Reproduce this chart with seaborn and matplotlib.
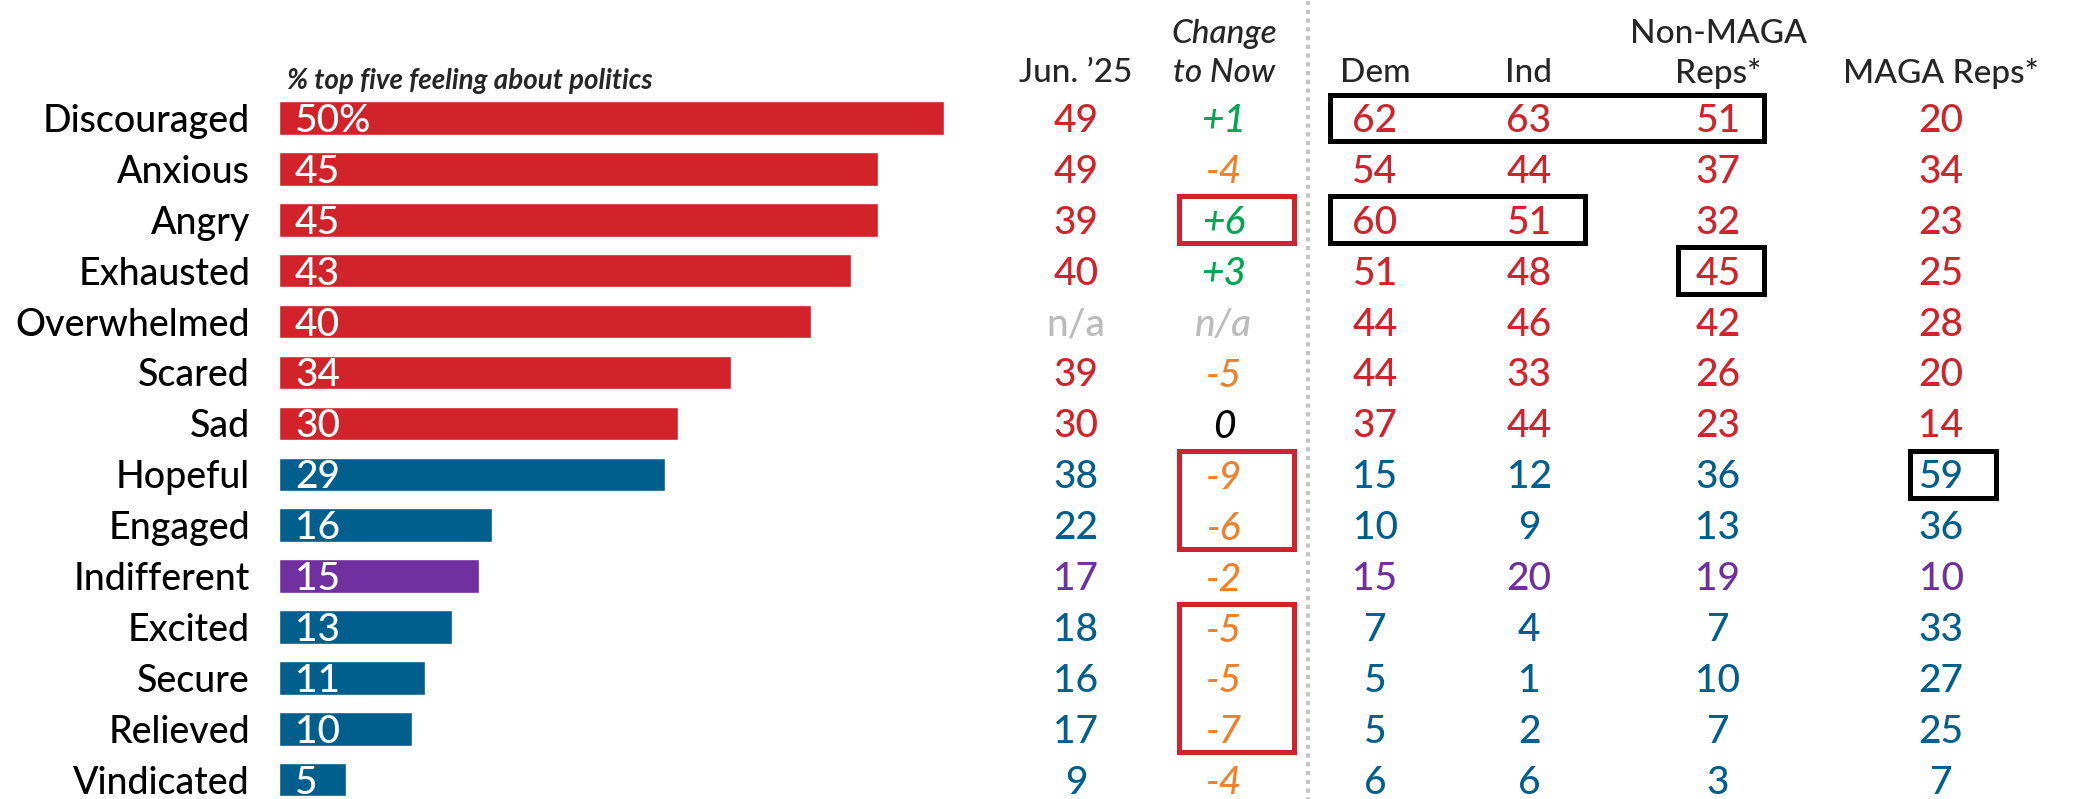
import matplotlib
matplotlib.use("Agg")
import matplotlib.pyplot as plt
from matplotlib import font_manager
from matplotlib.patches import Rectangle
from matplotlib.transforms import blended_transform_factory
import seaborn as sns
import pandas as pd

feelings = ["Discouraged", "Anxious", "Angry", "Exhausted", "Overwhelmed", "Scared", "Sad",
            "Hopeful", "Engaged", "Indifferent", "Excited", "Secure", "Relieved", "Vindicated"]
pct_now = [50, 45, 45, 43, 40, 34, 30, 29, 16, 15, 13, 11, 10, 5]
tone = ["neg"] * 7 + ["pos", "pos", "neu", "pos", "pos", "pos", "pos"]
jun25 = ["49", "49", "39", "40", "n/a", "39", "30", "38", "22", "17", "18", "16", "17", "9"]
change = ["+1", "-4", "+6", "+3", "n/a", "-5", "0", "-9", "-6", "-2", "-5", "-5", "-7", "-4"]
dem = [62, 54, 60, 51, 44, 44, 37, 15, 10, 15, 7, 5, 5, 6]
ind = [63, 44, 51, 48, 46, 33, 44, 12, 9, 20, 4, 1, 2, 6]
nonmaga = [51, 37, 32, 45, 42, 26, 23, 36, 13, 19, 7, 10, 7, 3]
maga = [20, 34, 23, 25, 28, 20, 14, 59, 36, 10, 33, 27, 25, 7]

df = pd.DataFrame({"feeling": feelings, "pct": pct_now, "tone": tone})

RED, BLUE, PURPLE = "#D2232A", "#005F8D", "#7030A0"
GREEN, ORANGE, GRAY = "#00A651", "#F0812A", "#BBBBBB"
tone_colors = {"neg": RED, "pos": BLUE, "neu": PURPLE}

sns.set_theme(style="white")
installed = {f.name for f in font_manager.fontManager.ttflist}
font = next((f for f in ["Lato", "Open Sans", "DejaVu Sans"] if f in installed))
plt.rcParams["font.family"] = [font, "DejaVu Sans"]
plt.rcParams["font.weight"] = "medium"

W, H = 2075, 799
fig = plt.figure(figsize=(W / 100, H / 100), dpi=100)
ax = fig.add_axes([0, 0, 1, 1])

sns.barplot(data=df, y="feeling", x="pct", hue="tone", palette=tone_colors,
            order=feelings, orient="h", width=0.66, dodge=False, legend=False,
            saturation=1, ax=ax)

# pixel layout: bar zero at x=279, 13.3 px per point; row 0 centre y=118, 50.9 px per row
px_per = 13.3
row_px = 50.9
ax.set_xlim(-279 / px_per, (W - 279) / px_per)
ax.set_ylim((H - 118) / row_px, -118 / row_px)
ax.axis("off")

fx = blended_transform_factory(fig.transFigure, ax.transData)

NUM = 28
for i, (name, v) in enumerate(zip(feelings, pct_now)):
    ax.text(-29 / px_per, i, name, ha="right", va="center_baseline", fontsize=27, color="black")
    lab = f"{v}%" if i == 0 else str(v)
    ax.text(16 / px_per, i, lab, ha="left", va="center_baseline", fontsize=NUM, color="white")

ax.text(287 / W, -0.78, "% top five feeling about politics", transform=fx, ha="left",
        va="center_baseline", fontsize=20, style="italic", fontweight="bold")

cols = {"jun": 1076, "chg": 1224, "dem": 1375, "ind": 1529, "nm": 1718, "maga": 1941}
hdr_y1, hdr_y2 = -1.7, -0.94
HDR = 24
ax.text(cols["jun"] / W, hdr_y2, "Jun. \u201925", transform=fx, ha="center", va="center_baseline", fontsize=HDR)
ax.text(cols["chg"] / W, hdr_y1, "Change", transform=fx, ha="center", va="center_baseline", fontsize=HDR, style="italic")
ax.text(cols["chg"] / W, hdr_y2, "to Now", transform=fx, ha="center", va="center_baseline", fontsize=HDR, style="italic")
ax.text(cols["dem"] / W, hdr_y2, "Dem", transform=fx, ha="center", va="center_baseline", fontsize=HDR)
ax.text(cols["ind"] / W, hdr_y2, "Ind", transform=fx, ha="center", va="center_baseline", fontsize=HDR)
ax.text(cols["nm"] / W, hdr_y1, "Non-MAGA", transform=fx, ha="center", va="center_baseline", fontsize=HDR)
ax.text(cols["nm"] / W, hdr_y2, "Reps*", transform=fx, ha="center", va="center_baseline", fontsize=HDR)
ax.text(cols["maga"] / W, hdr_y2, "MAGA Reps*", transform=fx, ha="center", va="center_baseline", fontsize=HDR)


def change_color(s):
    if s == "n/a":
        return GRAY
    if s.startswith("+"):
        return GREEN
    if s.startswith("-"):
        return ORANGE
    return "black"


for i in range(len(feelings)):
    c = tone_colors[tone[i]]
    jc = GRAY if jun25[i] == "n/a" else c
    ax.text(cols["jun"] / W, i, jun25[i], transform=fx, ha="center", va="center_baseline",
            fontsize=NUM, color=jc)
    ax.text(cols["chg"] / W, i, change[i], transform=fx, ha="center", va="center_baseline",
            fontsize=NUM, color=change_color(change[i]), style="italic")
    for key, vals in [("dem", dem), ("ind", ind), ("nm", nonmaga), ("maga", maga)]:
        ax.text(cols[key] / W, i, str(vals[i]), transform=fx, ha="center", va="center_baseline",
                fontsize=NUM, color=c)

# dotted divider
ax.plot([1308 / W, 1308 / W], [-2.3, 13.5], transform=fx, color="#C4C4C4",
        lw=3, ls=(0, (1, 1.1)), clip_on=False)

# highlight boxes: (x0 px, x1 px, first row, last row, colour)
boxes = [(1330, 1764, 0, 0, "black"), (1330, 1585, 2, 2, "black"),
         (1678, 1764, 3, 3, "black"), (1910, 1996, 7, 7, "black"),
         (1179, 1294, 2, 2, RED), (1179, 1294, 7, 8, RED), (1179, 1294, 10, 12, RED)]
for x0, x1, r0, r1, col in boxes:
    ax.add_patch(Rectangle((x0 / W, r0 - 0.46), (x1 - x0) / W, (r1 - r0) + 0.92,
                           transform=fx, fill=False, ec=col, lw=3.6, clip_on=False))

fig.savefig("out.png", dpi=100)
